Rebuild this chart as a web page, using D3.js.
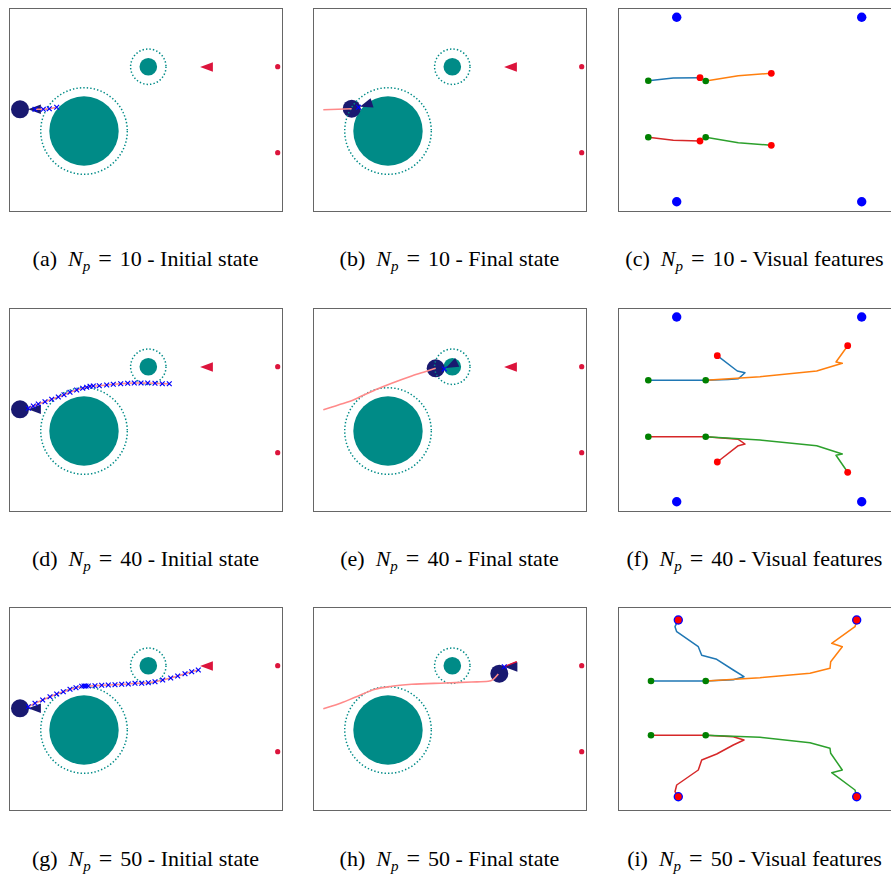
<!DOCTYPE html>
<html>
<head>
<meta charset="utf-8">
<script src="https://cdn.jsdelivr.net/npm/d3@7"></script>
<style>
  body { margin: 0; background: #fff; }
</style>
</head>
<body>
<script>
// world units: each environment box is 27.3 x 20.3
const obstacles = [
  { cx: 7.5, cy: 12.3, r: 3.47, safe: 4.33 },
  { cx: 13.93, cy: 5.87, r: 0.88, safe: 1.77 }
];
const goal = [19.75, 5.9];
const beacons = [[26.87, 5.87], [26.87, 14.47]];
const agentStart = [1.1, 10.13];
const startHeading = { x: 2.55, y: 10.13, angle: 0 };

const npValues = [10, 40, 50];
const letters = ["a", "b", "c", "d", "e", "f", "g", "h", "i"];
const stateLabels = ["Initial state", "Final state", "Visual features"];

// planned waypoints (initial state)
const plan10 = [[2.6, 10.13], [3.43, 10.13], [4.03, 10.07], [4.77, 9.93]];
const plan40 = [
  [1.93, 10.03], [2.43, 9.8], [2.93, 9.6], [3.6, 9.37], [4.27, 9.13], [4.93, 8.9],
  [5.5, 8.67], [6.1, 8.43], [6.77, 8.2], [7.37, 8.03], [7.77, 7.93], [8.1, 7.83],
  [8.43, 7.8], [9.03, 7.77], [9.77, 7.7], [10.43, 7.63], [11.17, 7.57], [11.87, 7.53],
  [12.53, 7.5], [13.2, 7.5], [13.87, 7.5], [14.6, 7.53], [15.33, 7.57], [16.03, 7.57]
];
const plan50 = [
  [1.93, 9.97], [2.6, 9.63], [3.37, 9.3], [4.1, 8.97], [4.77, 8.7], [5.43, 8.47],
  [6.1, 8.23], [6.7, 8.07], [7.27, 7.93], [7.5, 7.9], [7.7, 7.9], [7.93, 7.9],
  [8.6, 7.87], [9.27, 7.83], [9.93, 7.8], [10.6, 7.77], [11.27, 7.73], [11.93, 7.7],
  [12.6, 7.63], [13.27, 7.63], [13.93, 7.57], [14.6, 7.47], [15.37, 7.3], [16.17, 7.1],
  [16.87, 6.9], [17.6, 6.67], [18.27, 6.47], [18.93, 6.3]
];

// executed trajectories (final state)
const path10 = [[1.03, 10.17], [2.5, 10.13], [3.87, 10.07]];
const path40 = [
  [1.03, 10.17], [2.53, 9.7], [4.2, 9.13], [4.7, 8.87], [6.37, 8.13],
  [7.87, 7.53], [9.87, 6.8], [11.2, 6.37], [12.27, 6.03]
];
const path50 = [
  [1.03, 10.17], [2.53, 9.7], [4.2, 9.03], [6.2, 8.23], [7.87, 7.93], [9.87, 7.73],
  [13.2, 7.6], [15.87, 7.5], [17.53, 7.43], [18.03, 7.23], [18.53, 6.7]
];
const agentFinal = [[3.87, 10.07], [12.27, 6.03], [18.63, 6.67]];
const headingFinal = [
  { x: 5.3, y: 9.68, angle: -18 },
  { x: 13.85, y: 5.72, angle: -26 },
  { x: 19.8, y: 6.0, angle: 0 }
];
const lastMark = [[4.55, 9.93], [13.13, 6.1], [19.13, 5.97]];
const goalSegment50 = [[19.2, 5.97], [20.37, 5.47]];

// visual features
const corners10 = [[5.87, 0.93], [24.37, 0.93], [5.87, 19.37], [24.37, 19.37]];
const corners40 = [[5.87, 0.9], [24.37, 0.9], [5.87, 19.37], [24.37, 19.37]];
const corners50 = [[6.03, 1.3], [23.87, 1.3], [6.03, 18.97], [23.87, 18.97]];

const tracks10 = {
  blue: [[3.03, 7.27], [5.53, 7.0], [8.2, 6.97]],
  orange: [[8.77, 7.3], [12.03, 6.77], [15.33, 6.53]],
  red: [[3.03, 12.93], [5.53, 13.23], [8.2, 13.3]],
  green: [[8.77, 12.93], [12.03, 13.47], [15.33, 13.73]]
};
const tracks40 = {
  blue: [[3.03, 7.23], [8.77, 7.23], [11.0, 7.15], [12.03, 7.07], [12.7, 6.47], [11.93, 6.3], [9.93, 4.77]],
  orange: [[8.77, 7.23], [14.2, 6.87], [19.87, 6.3], [22.43, 5.53], [21.8, 5.4], [22.97, 3.77]],
  red: [[3.03, 12.87], [8.77, 12.87], [12.03, 13.13], [12.7, 13.6], [12.03, 13.77], [9.93, 15.4]],
  green: [[8.77, 12.87], [14.2, 13.2], [19.87, 13.77], [22.43, 14.6], [21.8, 14.73], [22.97, 16.43]]
};
const tracks50 = {
  blue: [[3.3, 7.4], [8.77, 7.4], [11.53, 7.27], [12.6, 6.97], [11.53, 6.3], [9.87, 5.23],
    [8.37, 4.83], [8.03, 3.97], [5.87, 2.47], [5.7, 1.97], [6.03, 1.3]],
  orange: [[8.77, 7.4], [14.2, 7.07], [19.2, 6.63], [21.2, 6.13], [21.27, 5.47], [22.43, 3.97],
    [21.37, 3.63], [23.7, 1.97], [23.87, 1.3]],
  red: [[3.3, 12.83], [8.77, 12.83], [11.53, 12.97], [12.6, 13.3], [11.53, 13.8], [9.87, 14.7],
    [8.37, 15.3], [8.03, 16.3], [5.87, 17.8], [5.7, 18.47], [6.03, 18.97]],
  green: [[8.77, 12.83], [14.2, 13.03], [19.2, 13.57], [21.2, 14.13], [21.27, 14.63], [22.43, 16.3],
    [21.37, 16.57], [23.7, 18.3], [23.87, 18.97]]
};

const trackColors = { blue: "#1f77b4", orange: "#ff7f0e", red: "#d62728", green: "#2ca02c" };

const plans = [plan10, plan40, plan50];
const paths = [path10, path40, path50];
const cornersAll = [corners10, corners40, corners50];
const tracksAll = [tracks10, tracks40, tracks50];

const W = 273, H = 203;
const colX = [9, 313, 618];
const rowY = [8, 308, 607];
const captionY = [266, 566, 866];

const svg = d3.select("body").append("svg")
  .attr("width", 891)
  .attr("height", 876);

const tri = "M-6.4,0 L6.4,-4.8 L6.4,4.8 Z";

const makePanel = (c, r) => {
  const x = d3.scaleLinear().domain([0, 27.3]).range([colX[c], colX[c] + W]);
  const y = d3.scaleLinear().domain([0, 20.3]).range([rowY[r], rowY[r] + H]);
  const g = svg.append("g");
  g.append("rect")
    .attr("x", colX[c] + 0.5).attr("y", rowY[r] + 0.5)
    .attr("width", W).attr("height", H)
    .attr("fill", "#fff").attr("stroke", "#666").attr("stroke-width", 1);
  return { g, x, y };
};

const line = (x, y) => d3.line().x(d => x(d[0])).y(d => y(d[1]));

const drawX = (g, x, y, pts) => {
  g.append("g").selectAll("path")
    .data(pts)
    .join("path")
    .attr("d", d => {
      const px = x(d[0]), py = y(d[1]), s = 2.4;
      return `M${px - s},${py - s}L${px + s},${py + s}M${px - s},${py + s}L${px + s},${py - s}`;
    })
    .attr("stroke", "#0000ff")
    .attr("stroke-width", 1.2)
    .attr("fill", "none");
};

const drawEnv = (g, x, y, agent) => {
  const k = x(1) - x(0);
  g.selectAll("circle.obs")
    .data(obstacles)
    .join("circle")
    .attr("class", "obs")
    .attr("cx", d => x(d.cx)).attr("cy", d => y(d.cy))
    .attr("r", d => d.r * k)
    .attr("fill", "#008b87");

  g.append("path")
    .attr("d", tri)
    .attr("transform", `translate(${x(goal[0])},${y(goal[1])})`)
    .attr("fill", "#dc143c");

  g.selectAll("circle.beacon")
    .data(beacons)
    .join("circle")
    .attr("class", "beacon")
    .attr("cx", d => x(d[0])).attr("cy", d => y(d[1]))
    .attr("r", 2.6)
    .attr("fill", "#dc143c");

  g.append("circle")
    .attr("cx", x(agent[0])).attr("cy", y(agent[1]))
    .attr("r", 9)
    .attr("fill", "#191970");

  g.selectAll("circle.safe")
    .data(obstacles)
    .join("circle")
    .attr("class", "safe")
    .attr("cx", d => x(d.cx)).attr("cy", d => y(d.cy))
    .attr("r", d => d.safe * k)
    .attr("fill", "none")
    .attr("stroke", "#008b87")
    .attr("stroke-width", 1.5)
    .attr("stroke-dasharray", "1.4 2.1");
};

const drawHeading = (g, x, y, h) => {
  g.append("path")
    .attr("d", tri)
    .attr("transform", `translate(${x(h.x)},${y(h.y)}) rotate(${h.angle})`)
    .attr("fill", "#191970");
};

for (let r = 0; r < 3; r++) {
  // initial state
  {
    const { g, x, y } = makePanel(0, r);
    drawEnv(g, x, y, agentStart);
    drawHeading(g, x, y, startHeading);
    g.append("path")
      .attr("d", line(x, y)(plans[r]))
      .attr("fill", "none")
      .attr("stroke", "#ff8a8a")
      .attr("stroke-width", 1.5);
    drawX(g, x, y, plans[r]);
  }
  // final state
  {
    const { g, x, y } = makePanel(1, r);
    drawEnv(g, x, y, agentFinal[r]);
    g.append("path")
      .attr("d", line(x, y).curve(d3.curveMonotoneX)(paths[r]))
      .attr("fill", "none")
      .attr("stroke", "#ff8a8a")
      .attr("stroke-width", 1.6);
    if (r === 2) {
      g.append("path")
        .attr("d", line(x, y)(goalSegment50))
        .attr("stroke", "#dc143c")
        .attr("stroke-width", 1.5);
    }
    drawHeading(g, x, y, headingFinal[r]);
    drawX(g, x, y, [lastMark[r]]);
  }
  // visual features
  {
    const { g, x, y } = makePanel(2, r);
    const tracks = tracksAll[r];
    const keys = ["blue", "red", "orange", "green"];
    keys.forEach(k => {
      g.append("path")
        .attr("d", line(x, y)(tracks[k]))
        .attr("fill", "none")
        .attr("stroke", trackColors[k])
        .attr("stroke-width", 1.5)
        .attr("stroke-linejoin", "round");
    });
    g.selectAll("circle.corner")
      .data(cornersAll[r])
      .join("circle")
      .attr("class", "corner")
      .attr("cx", d => x(d[0])).attr("cy", d => y(d[1]))
      .attr("r", 4.7)
      .attr("fill", "#0000ff");
    g.selectAll("circle.end")
      .data(keys.map(k => tracks[k][tracks[k].length - 1]))
      .join("circle")
      .attr("class", "end")
      .attr("cx", d => x(d[0])).attr("cy", d => y(d[1]))
      .attr("r", 3.4)
      .attr("fill", "#ff0000");
    g.selectAll("circle.start")
      .data(keys.map(k => tracks[k][0]))
      .join("circle")
      .attr("class", "start")
      .attr("cx", d => x(d[0])).attr("cy", d => y(d[1]))
      .attr("r", 3.3)
      .attr("fill", "#008000");
  }
}

// captions
for (let r = 0; r < 3; r++) {
  for (let c = 0; c < 3; c++) {
    const t = svg.append("text")
      .attr("x", colX[c] + W / 2)
      .attr("y", captionY[r])
      .attr("text-anchor", "middle")
      .attr("font-family", "'Liberation Serif', 'Times New Roman', serif")
      .attr("font-size", 22)
      .attr("fill", "#000");
    t.append("tspan").text(`(${letters[r * 3 + c]})`);
    t.append("tspan").attr("dx", 11).attr("font-style", "italic").text("N");
    t.append("tspan").attr("font-style", "italic").attr("font-size", 15).attr("dy", 5).text("p");
    t.append("tspan").attr("dy", -5).attr("dx", 8).attr("font-size", 24).text("=");
    t.append("tspan").attr("dx", 8).text(npValues[r]);
    t.append("tspan").text(` - ${stateLabels[c]}`);
  }
}
</script>
</body>
</html>
